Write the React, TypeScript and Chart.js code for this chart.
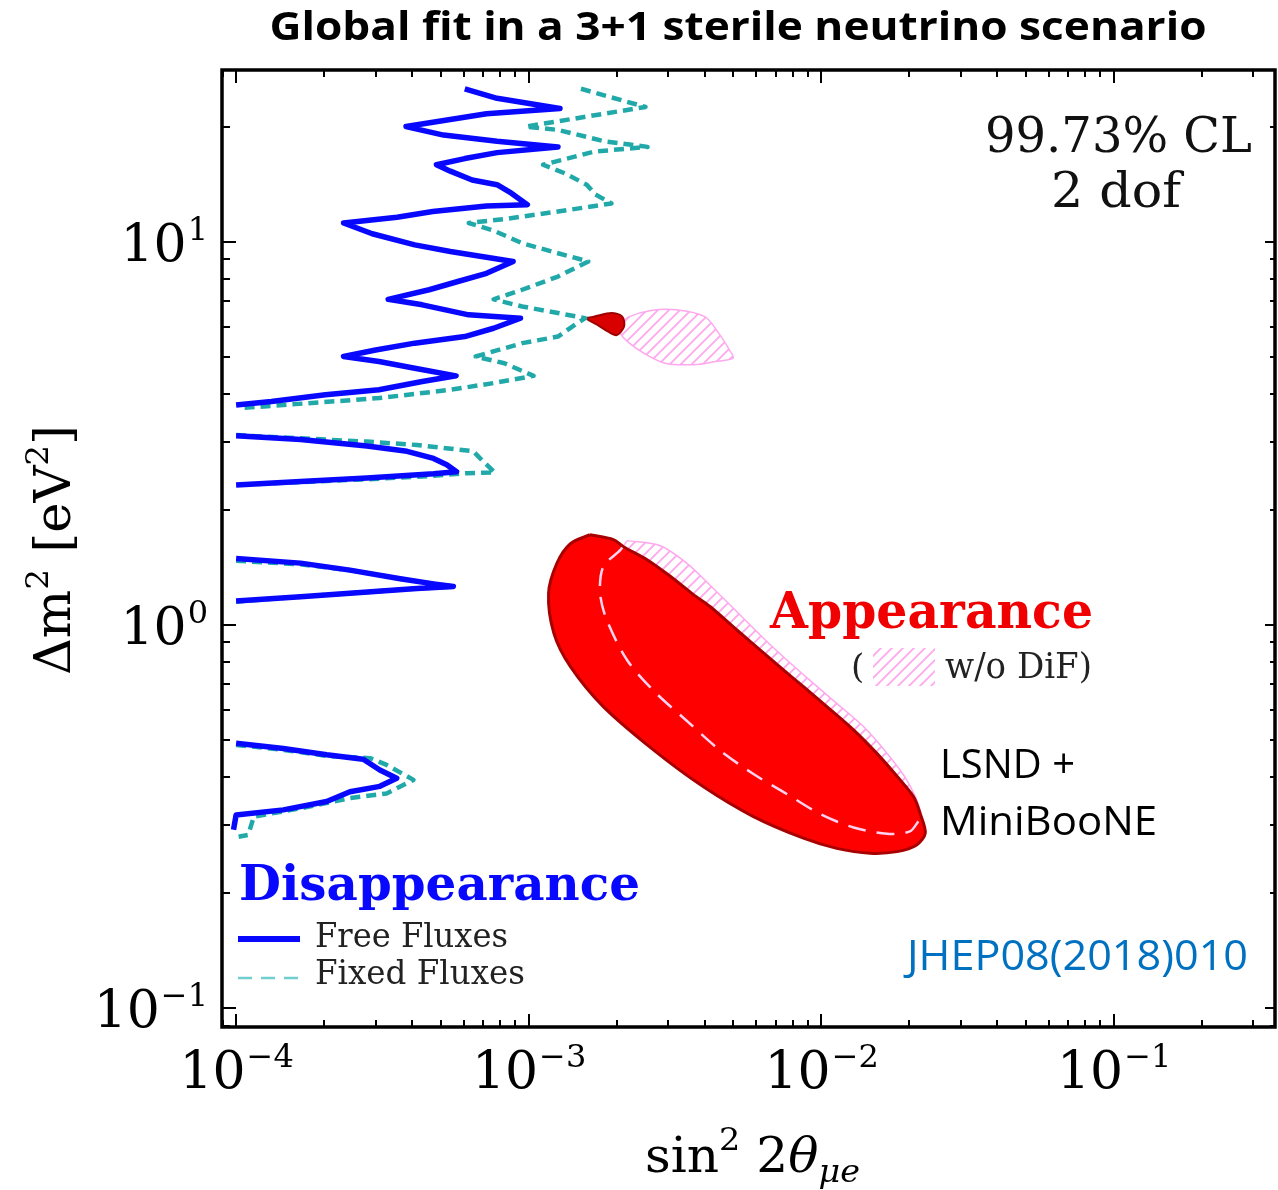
import { useEffect, useRef } from "react";
import { Chart, registerables } from "chart.js";

Chart.register(...registerables);

type P = [number, number];

// axis ranges
const X_MIN = 0.895e-4;
const X_MAX = 0.356;
const Y_MIN = 0.0892;
const Y_MAX = 28.1;

// tick labels
const xTicks = [1e-4, 1e-3, 1e-2, 1e-1];
const xTickExps = ["\u22124", "\u22123", "\u22122", "\u22121"];
const yTicks = [10, 1, 0.1];
const yTickExps = ["1", "0", "\u22121"];

// Disappearance, Free Fluxes (solid blue)
const freeFluxes1: P[] = [
  [6.05e-4, 25.1], [7.8e-4, 23.7], [1.28e-3, 22.3], [7.18e-4, 21.6], [3.81e-4, 20.0],
  [5.12e-4, 19.0], [7.8e-4, 18.3], [1.26e-3, 17.7], [7.8e-4, 17.1], [6.05e-4, 16.5],
  [4.84e-4, 15.9], [5.4e-4, 15.3], [6.41e-4, 14.5], [7.8e-4, 14.1], [8.73e-4, 13.4],
  [9.9e-4, 12.5], [7.18e-4, 12.4], [4.7e-4, 12.0], [3.55e-4, 11.6], [2.33e-4, 11.2],
  [2.92e-4, 10.5], [4.08e-4, 9.82], [5.4e-4, 9.44], [8.85e-4, 8.89], [7.18e-4, 8.28],
  [5.73e-4, 7.88], [4.57e-4, 7.5], [3.31e-4, 7.08], [4.33e-4, 6.85], [6.24e-4, 6.45],
  [9.38e-4, 6.32], [7.59e-4, 5.95], [6.05e-4, 5.66], [4.08e-4, 5.44], [3.0e-4, 5.22],
  [2.33e-4, 5.02], [3.08e-4, 4.87], [4.08e-4, 4.68], [5.65e-4, 4.47], [4.33e-4, 4.32],
  [3.08e-4, 4.11], [2.02e-4, 3.99], [1.32e-4, 3.83], [1.0e-4, 3.75],
];
const freeFluxes2: P[] = [
  [1.0e-4, 3.12], [1.66e-4, 3.05], [2.8e-4, 2.93], [3.84e-4, 2.84], [4.73e-4, 2.72],
  [5.25e-4, 2.62], [5.67e-4, 2.51], [4.73e-4, 2.48], [2.8e-4, 2.42], [1.66e-4, 2.37], [1.0e-4, 2.32],
];
const freeFluxes3: P[] = [
  [1.0e-4, 1.49], [1.66e-4, 1.45], [2.45e-4, 1.39], [3.64e-4, 1.32], [4.73e-4, 1.28],
  [5.53e-4, 1.26], [4.15e-4, 1.245], [2.45e-4, 1.21], [1.66e-4, 1.185], [1.0e-4, 1.155],
];
const freeFluxes4: P[] = [
  [1.0e-4, 0.491], [1.45e-4, 0.476], [2.04e-4, 0.458], [2.72e-4, 0.446], [3.1e-4, 0.418],
  [3.54e-4, 0.398], [3.1e-4, 0.379], [2.45e-4, 0.367], [2.04e-4, 0.346], [1.45e-4, 0.329],
  [1.0e-4, 0.319], [0.98e-4, 0.292],
];

// Disappearance, Fixed Fluxes (dashed teal)
const fixedFluxes1: P[] = [
  [1.51e-3, 25.1], [2.51e-3, 22.5], [9.77e-4, 20.0], [1.26e-3, 19.6], [1.82e-3, 18.3],
  [2.55e-3, 17.7], [1.67e-3, 17.2], [1.12e-3, 15.9], [1.33e-3, 15.1], [1.58e-3, 14.1],
  [1.69e-3, 13.3], [1.92e-3, 12.6], [1.26e-3, 12.0], [8.49e-4, 11.5], [6.24e-4, 11.2],
  [7.59e-4, 10.7], [9.51e-4, 9.92], [1.26e-3, 9.34], [1.6e-3, 8.89], [1.26e-3, 8.12],
  [9.51e-4, 7.5], [7.59e-4, 7.08], [9.51e-4, 6.78], [1.26e-3, 6.52], [1.56e-3, 6.32],
  [1.41e-3, 6.01], [1.26e-3, 5.66], [9.51e-4, 5.44], [6.59e-4, 5.02], [8.26e-4, 4.82],
  [1.04e-3, 4.47], [7.59e-4, 4.28], [5.4e-4, 4.11], [3.08e-4, 3.91], [1.75e-4, 3.79],
  [1.03e-4, 3.68],
];
const fixedFluxes2: P[] = [
  [1.0e-4, 3.13], [1.66e-4, 3.07], [2.8e-4, 3.01], [4.15e-4, 2.95], [6.47e-4, 2.84],
  [7.0e-4, 2.67], [7.67e-4, 2.5], [6.15e-4, 2.49], [4.73e-4, 2.45], [2.8e-4, 2.4],
  [1.66e-4, 2.36], [1.0e-4, 2.32],
];
const fixedFluxes3: P[] = [
  [1.0e-4, 1.47], [1.66e-4, 1.44], [2.45e-4, 1.39], [3.64e-4, 1.32], [4.73e-4, 1.28],
  [5.6e-4, 1.26], [4.15e-4, 1.245], [2.45e-4, 1.21], [1.66e-4, 1.185], [1.0e-4, 1.15],
];
const fixedFluxes4: P[] = [
  [1.0e-4, 0.486], [1.45e-4, 0.472], [2.04e-4, 0.455], [2.87e-4, 0.449], [3.27e-4, 0.431],
  [4.04e-4, 0.394], [3.27e-4, 0.363], [2.45e-4, 0.353], [1.66e-4, 0.332], [1.15e-4, 0.316],
  [1.1e-4, 0.283], [1.02e-4, 0.28],
];

// Appearance (LSND + MiniBooNE), filled red
const appearance: P[] = [
  [1.62e-3, 1.72], [1.95e-3, 1.67], [2.11e-3, 1.6], [2.54e-3, 1.48], [3.05e-3, 1.34],
  [3.66e-3, 1.2], [4.17e-3, 1.117], [5.15e-3, 0.97], [6.18e-3, 0.861], [7.43e-3, 0.763],
  [8.7e-3, 0.69], [1.046e-2, 0.612], [1.29e-2, 0.532], [1.55e-2, 0.462], [1.82e-2, 0.402],
  [2.07e-2, 0.356], [2.18e-2, 0.322], [2.27e-2, 0.286], [2.12e-2, 0.2665], [1.82e-2, 0.256],
  [1.47e-2, 0.2535], [1.13e-2, 0.261], [8.7e-3, 0.2775], [5.87e-3, 0.316], [3.96e-3, 0.378],
  [2.67e-3, 0.472], [1.8e-3, 0.612], [1.39e-3, 0.778], [1.22e-3, 0.951], [1.17e-3, 1.21],
  [1.25e-3, 1.45], [1.39e-3, 1.63], [1.62e-3, 1.72],
];
const appearanceSmall: P[] = [
  [1.56e-3, 6.32], [1.67e-3, 6.38], [1.92e-3, 6.52], [2.09e-3, 6.38], [2.12e-3, 6.01],
  [2.0e-3, 5.71], [1.87e-3, 5.83], [1.72e-3, 6.07], [1.56e-3, 6.32],
];

// Appearance w/o DiF (pink hatched)
const noDifUpper: P[] = [
  [2.17e-3, 1.66], [2.82e-3, 1.61], [3.47e-3, 1.45], [4.17e-3, 1.27], [5.15e-3, 1.083],
  [6.35e-3, 0.923], [7.63e-3, 0.81], [9.41e-3, 0.704], [1.13e-2, 0.624], [1.395e-2, 0.543],
  [1.68e-2, 0.462], [1.96e-2, 0.394], [2.18e-2, 0.329], [2.15e-2, 0.307],
];
const noDifLower: P[] = [
  [2.15e-2, 0.307], [2.01e-2, 0.289], [1.68e-2, 0.285], [1.29e-2, 0.296], [9.92e-3, 0.321],
  [7.63e-3, 0.362], [5.87e-3, 0.408], [4.52e-3, 0.47], [3.47e-3, 0.562], [2.67e-3, 0.674],
  [2.17e-3, 0.81], [1.85e-3, 1.03], [1.755e-3, 1.21], [1.8e-3, 1.42], [2.06e-3, 1.57],
  [2.17e-3, 1.66],
];
const noDifSmall: P[] = [
  [2.06e-3, 6.13], [2.21e-3, 6.38], [2.62e-3, 6.62], [3.19e-3, 6.65], [4.0e-3, 6.38],
  [4.47e-3, 5.77], [4.86e-3, 5.22], [5.0e-3, 4.97], [4.35e-3, 4.87], [3.67e-3, 4.78],
  [2.93e-3, 4.82], [2.48e-3, 5.12], [2.21e-3, 5.44], [2.06e-3, 5.77], [2.06e-3, 6.13],
];

const BLUE = "#0808ff";
const TEAL = "#21a9a9";
const RED = "#ff0000";
const DARKRED = "#a80000";
const PINK = "#ffa8ee";
const SERIF = '"DejaVu Serif", serif';
const SANS = '"Open Sans", "Noto Sans", sans-serif';

function pts(a: P[]) {
  return a.map(([x, y]) => ({ x, y }));
}

function makeHatch(color: string) {
  const s = 11;
  const c = document.createElement("canvas");
  c.width = s;
  c.height = s;
  const g = c.getContext("2d")!;
  g.strokeStyle = color;
  g.lineWidth = 1.8;
  g.beginPath();
  g.moveTo(0, s);
  g.lineTo(s, 0);
  g.moveTo(-s / 2, s / 2);
  g.lineTo(s / 2, -s / 2);
  g.moveTo(s / 2, s * 1.5);
  g.lineTo(s * 1.5, s / 2);
  g.stroke();
  return g.createPattern(c, "repeat")!;
}

function logTicks(min: number, max: number) {
  const out: { v: number; major: boolean }[] = [];
  for (let d = Math.floor(Math.log10(min)); d <= Math.ceil(Math.log10(max)); d++) {
    for (let m = 1; m <= 9; m++) {
      const v = m * Math.pow(10, d);
      if (v >= min && v <= max) out.push({ v, major: m === 1 });
    }
  }
  return out;
}

type Piece = { t: string; font: string; dy: number };

function drawPieces(ctx: CanvasRenderingContext2D, pieces: Piece[], x: number, y: number, width: number | null, align: "left" | "center") {
  ctx.save();
  let total = 0;
  const ws = pieces.map((p) => {
    ctx.font = p.font;
    const w = ctx.measureText(p.t).width;
    total += w;
    return w;
  });
  const sx = width ? width / total : 1;
  const x0 = align === "center" ? x - (total * sx) / 2 : x;
  ctx.translate(x0, y);
  ctx.scale(sx, 1);
  ctx.textAlign = "left";
  ctx.textBaseline = "alphabetic";
  let cx = 0;
  pieces.forEach((p, i) => {
    ctx.font = p.font;
    ctx.fillText(p.t, cx, p.dy);
    cx += ws[i];
  });
  ctx.restore();
}

function fitText(ctx: CanvasRenderingContext2D, text: string, x: number, y: number, font: string, color: string, width: number | null, align: "left" | "center" | "right") {
  ctx.save();
  ctx.font = font;
  ctx.fillStyle = color;
  ctx.textBaseline = "alphabetic";
  ctx.textAlign = "left";
  const w = ctx.measureText(text).width;
  const sx = width ? width / w : 1;
  const ww = w * sx;
  const x0 = align === "left" ? x : align === "center" ? x - ww / 2 : x - ww;
  ctx.translate(x0, y);
  ctx.scale(sx, 1);
  ctx.fillText(text, 0, 0);
  ctx.restore();
}

export default function App() {
  const ref = useRef<HTMLCanvasElement | null>(null);

  useEffect(() => {
    let chart: Chart | null = null;
    let cancelled = false;
    const fontsReady = (document as any).fonts
      ? Promise.all([
          (document as any).fonts.load(`52px "DejaVu Serif"`),
          (document as any).fonts.load(`bold 48px "DejaVu Serif"`),
          (document as any).fonts.load(`italic 48px "DejaVu Serif"`),
          (document as any).fonts.load(`40px "Open Sans"`),
          (document as any).fonts.load(`bold 40px "Open Sans"`),
        ]).catch(() => null)
      : Promise.resolve(null);

    fontsReady.then(() => {
      if (cancelled || !ref.current) return;
      const hatch = makeHatch(PINK);

      const line = (label: string, data: P[], color: string, width: number, dash: number[], order: number) => ({
        label,
        data: pts(data),
        showLine: true,
        borderColor: color,
        borderWidth: width,
        borderDash: dash,
        pointRadius: 0,
        fill: false,
        tension: 0,
        order,
        borderJoinStyle: "round" as const,
        borderCapStyle: "butt" as const,
      });

      const decor = {
        id: "decor",
        afterDraw(c: Chart) {
          const ctx = c.ctx;
          const a = c.chartArea;
          const xs: any = c.scales.x;
          const ys: any = c.scales.y;
          ctx.save();
          // inward ticks
          ctx.strokeStyle = "#000";
          ctx.lineWidth = 2;
          ctx.beginPath();
          for (const t of logTicks(X_MIN, X_MAX)) {
            const px = Math.round(xs.getPixelForValue(t.v));
            const L = t.major ? 13 : 7;
            ctx.moveTo(px, a.bottom);
            ctx.lineTo(px, a.bottom - L);
            ctx.moveTo(px, a.top);
            ctx.lineTo(px, a.top + L);
          }
          for (const t of logTicks(Y_MIN, Y_MAX)) {
            const py = Math.round(ys.getPixelForValue(t.v));
            const L = t.major ? 14 : 8;
            ctx.moveTo(a.left, py);
            ctx.lineTo(a.left + L, py);
            ctx.moveTo(a.right, py);
            ctx.lineTo(a.right - (t.major ? 10 : 5), py);
          }
          ctx.stroke();
          // frame
          ctx.lineWidth = 3.5;
          ctx.strokeRect(a.left, a.top, a.right - a.left, a.bottom - a.top);

          // tick labels
          ctx.fillStyle = "#000";
          xTicks.forEach((v, i) => {
            const px = xs.getPixelForValue(v);
            ctx.font = `52px ${SERIF}`;
            const w1 = ctx.measureText("10").width;
            ctx.font = `32px ${SERIF}`;
            const w2 = ctx.measureText(xTickExps[i]).width;
            const x0 = px - (w1 + w2) / 2;
            ctx.textAlign = "left";
            ctx.font = `52px ${SERIF}`;
            ctx.fillText("10", x0, a.bottom + 61);
            ctx.font = `32px ${SERIF}`;
            ctx.fillText(xTickExps[i], x0 + w1 + 1, a.bottom + 40);
          });
          yTicks.forEach((v, i) => {
            const py = ys.getPixelForValue(v);
            ctx.font = `32px ${SERIF}`;
            const w2 = ctx.measureText(yTickExps[i]).width;
            ctx.font = `52px ${SERIF}`;
            const w1 = ctx.measureText("10").width;
            const right = a.left - 14;
            const x0 = right - w1 - w2 - 1;
            ctx.textAlign = "left";
            ctx.fillText("10", x0, py + 19);
            ctx.font = `32px ${SERIF}`;
            ctx.fillText(yTickExps[i], x0 + w1 + 1, py - 2);
          });

          // axis titles
          drawPieces(
            ctx,
            [
              { t: "sin", font: `48px ${SERIF}`, dy: 0 },
              { t: "2", font: `32px ${SERIF}`, dy: -22 },
              { t: " 2", font: `48px ${SERIF}`, dy: 0 },
              { t: "\u03b8", font: `italic 48px ${SERIF}`, dy: 0 },
              { t: "\u03bce", font: `italic 32px ${SERIF}`, dy: 10 },
            ],
            645,
            1172,
            215,
            "left"
          );
          ctx.save();
          ctx.translate(70, 550);
          ctx.rotate(-Math.PI / 2);
          drawPieces(
            ctx,
            [
              { t: "\u0394m", font: `50px ${SERIF}`, dy: 0 },
              { t: "2", font: `32px ${SERIF}`, dy: -22 },
              { t: " [eV", font: `50px ${SERIF}`, dy: 0 },
              { t: "2", font: `32px ${SERIF}`, dy: -22 },
              { t: "]", font: `50px ${SERIF}`, dy: 0 },
            ],
            0,
            0,
            250,
            "center"
          );
          ctx.restore();

          // title
          fitText(ctx, "Global fit in a 3+1 sterile neutrino scenario", 738, 40, `bold 39px ${SANS}`, "#000", 937, "center");

          // CL annotation
          fitText(ctx, "99.73% CL", 1252, 152, `49px ${SERIF}`, "#111", 267, "right");
          fitText(ctx, "2 dof", 1116, 207, `49px ${SERIF}`, "#111", 130, "center");

          // Appearance labels
          fitText(ctx, "Appearance", 770, 628, `bold 50px ${SERIF}`, "#f00000", 323, "left");
          fitText(ctx, "(", 851, 678, `34px ${SERIF}`, "#222", null, "left");
          ctx.fillStyle = hatch;
          ctx.fillRect(873, 648, 62, 38);
          fitText(ctx, "w/o DiF)", 945, 678, `35px ${SERIF}`, "#222", 147, "left");

          fitText(ctx, "LSND +", 940, 778, `40px ${SANS}`, "#000", 135, "left");
          fitText(ctx, "MiniBooNE", 940, 835, `40px ${SANS}`, "#000", 217, "left");
          fitText(ctx, "JHEP08(2018)010", 907, 970, `42px ${SANS}`, "#0070c0", 341, "left");

          // Disappearance legend
          fitText(ctx, "Disappearance", 239, 900, `bold 49px ${SERIF}`, BLUE, 401, "left");
          ctx.strokeStyle = BLUE;
          ctx.lineWidth = 6;
          ctx.setLineDash([]);
          ctx.beginPath();
          ctx.moveTo(238, 939);
          ctx.lineTo(300, 939);
          ctx.stroke();
          ctx.strokeStyle = "#6fcfcf";
          ctx.lineWidth = 2.5;
          ctx.setLineDash([14, 9]);
          ctx.beginPath();
          ctx.moveTo(238, 978);
          ctx.lineTo(300, 978);
          ctx.stroke();
          ctx.setLineDash([]);
          fitText(ctx, "Free Fluxes", 315, 947, `34px ${SERIF}`, "#222", 193, "left");
          fitText(ctx, "Fixed Fluxes", 315, 984, `34px ${SERIF}`, "#222", 210, "left");
          ctx.restore();
        },
      };

      chart = new Chart(ref.current, {
        type: "scatter",
        data: {
          datasets: [
            line("Free Fluxes", freeFluxes1, BLUE, 5.5, [], 1),
            line("Free Fluxes 2", freeFluxes2, BLUE, 5.5, [], 1),
            line("Free Fluxes 3", freeFluxes3, BLUE, 5.5, [], 1),
            line("Free Fluxes 4", freeFluxes4, BLUE, 5.5, [], 1),
            line("Fixed Fluxes", fixedFluxes1, TEAL, 4.5, [10, 6], 3),
            line("Fixed Fluxes 2", fixedFluxes2, TEAL, 4.5, [10, 6], 3),
            line("Fixed Fluxes 3", fixedFluxes3, TEAL, 4.5, [10, 6], 3),
            line("Fixed Fluxes 4", fixedFluxes4, TEAL, 4.5, [10, 6], 3),
            { ...line("w/o DiF boundary", noDifLower, "#ffd2ef", 2.5, [18, 11], 5), tension: 0.3 },
            {
              ...line("Appearance small", appearanceSmall, "#a00000", 2, [], 6),
              fill: "shape",
              backgroundColor: "#d80000",
              tension: 0.3,
            },
            {
              ...line("Appearance", appearance, DARKRED, 3, [], 7),
              fill: "shape",
              backgroundColor: RED,
              tension: 0.3,
            },
            {
              ...line("w/o DiF", [...noDifUpper, ...noDifLower.slice(1)], PINK, 1.5, [], 9),
              fill: "shape",
              backgroundColor: hatch,
              tension: 0.3,
            },
            {
              ...line("w/o DiF small", noDifSmall, PINK, 1.5, [], 9),
              fill: "shape",
              backgroundColor: hatch,
              tension: 0.3,
            },
          ] as any,
        },
        options: {
          responsive: false,
          maintainAspectRatio: false,
          animation: false,
          events: [],
          layout: { padding: { top: 70, right: 3, left: 0, bottom: 0 } },
          plugins: {
            legend: { display: false },
            title: { display: false },
            tooltip: { enabled: false },
          },
          scales: {
            x: {
              type: "logarithmic",
              min: X_MIN,
              max: X_MAX,
              bounds: "data",
              grid: { display: false },
              border: { display: false },
              ticks: { display: false },
              afterFit: (s: any) => {
                s.height = 163;
              },
            },
            y: {
              type: "logarithmic",
              min: Y_MIN,
              max: Y_MAX,
              bounds: "data",
              grid: { display: false },
              border: { display: false },
              ticks: { display: false },
              afterFit: (s: any) => {
                s.width = 222;
              },
            },
          },
        } as any,
        plugins: [decor],
      });
    });

    return () => {
      cancelled = true;
      if (chart) chart.destroy();
    };
  }, []);

  return (
    <div style={{ position: "absolute", left: 0, top: 0, width: 1278, height: 1190, background: "#fff" }}>
      <canvas ref={ref} width={1278} height={1190} style={{ display: "block", width: 1278, height: 1190 }} />
    </div>
  );
}
